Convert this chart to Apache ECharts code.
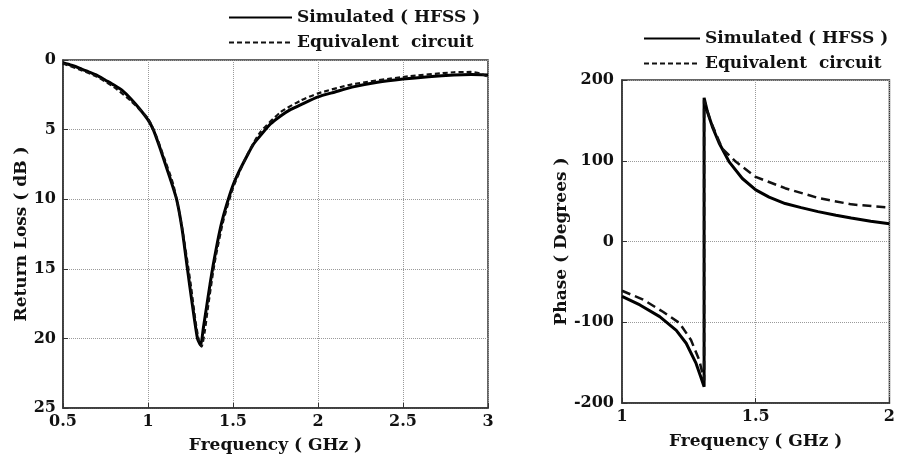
<!DOCTYPE html>
<html>
<head>
<meta charset="utf-8">
<script src="https://cdn.jsdelivr.net/npm/echarts@6/dist/echarts.min.js"></script>
<style>
html,body{margin:0;padding:0;background:#fff;}
#chart{width:898px;height:460px;}
</style>
</head>
<body>
<div id="chart"></div>
<script>
// ---- Data ----
var seriesNames = ['Simulated ( HFSS )', 'Equivalent  circuit'];

// Return loss (dB) vs frequency (GHz)
var rlFreqSim = [0.5,0.55,0.6,0.65,0.7,0.75,0.8,0.85,0.9,0.95,1.0,1.031,1.07,1.1,1.13,1.168,1.2,1.232,1.26,1.291,1.31,1.325,1.345,1.365,1.384,1.41,1.433,1.46,1.5,1.54,1.58,1.62,1.66,1.72,1.78,1.84,1.9,2.0,2.1,2.2,2.35,2.5,2.65,2.8,2.9,3.0];
var rlSim     = [0.2,0.38,0.6,0.85,1.1,1.45,1.8,2.2,2.8,3.5,4.3,5.0,6.3,7.4,8.5,10.0,12.1,15.0,17.5,20.0,20.5,19.3,17.7,16.1,14.7,13.0,11.7,10.5,9.0,7.9,6.95,6.05,5.45,4.6,4.02,3.55,3.2,2.65,2.3,1.95,1.6,1.37,1.2,1.08,1.05,1.08];

var rlFreqEq = [0.5,0.6,0.7,0.8,0.9,1.0,1.05,1.1,1.15,1.2,1.25,1.28,1.3,1.315,1.335,1.35,1.39,1.44,1.5,1.58,1.66,1.78,1.9,2.0,2.2,2.5,2.8,2.9,2.95,3.0];
var rlEq     = [0.25,0.7,1.2,1.95,2.95,4.2,5.5,7.2,9.0,12.0,16.0,18.8,20.2,20.6,19.4,18.0,14.7,11.7,9.2,6.9,5.2,3.75,2.9,2.4,1.75,1.22,0.88,0.86,0.95,1.2];

// Phase (degrees) vs frequency (GHz)
var phFreqSim = [1.0,1.067,1.141,1.203,1.24,1.277,1.295,1.307,1.307,1.32,1.338,1.363,1.4,1.45,1.5,1.55,1.61,1.67,1.733,1.8,1.857,1.93,2.0];
var phSim     = [-68,-78.6,-93,-110,-126,-151,-168,-180,178,160,142,122,99,78,64,55,47,42,37,32.5,29,25,22];

var phFreqEq = [1.0,1.079,1.153,1.215,1.258,1.289,1.307,1.307,1.33,1.375,1.425,1.5,1.61,1.733,1.857,2.0];
var phEq     = [-61,-72,-87,-101,-122,-147,-172,175,150,115,99,80,66,54,46,42];

// Tick labels
var rlXTicks = [0.5,1,1.5,2,2.5,3];
var rlYTicks = [0,5,10,15,20,25];
var phXTicks = [1,1.5,2];
var phYTicks = [-200,-100,0,100,200];

function zip(a,b){return a.map(function(v,i){return [v,b[i]];});}

var FONT = '"DejaVu Serif",serif';
var txt = {fontFamily:FONT,fontWeight:'bold',fontSize:17,color:'#111'};
var tickTxt = {fontFamily:FONT,fontWeight:'bold',fontSize:16,color:'#111'};
var gridLine = {show:true,lineStyle:{color:'#9a9a9a',type:'dotted',width:1}};
var axisLine = {show:true,onZero:false,lineStyle:{color:'#333',width:1.5}};
var tick = {show:true,inside:true,length:5,lineStyle:{color:'#333'}};
var legendCommon = {orient:'vertical',itemGap:8,itemHeight:16,data:seriesNames,
  textStyle:txt,inactiveColor:'#111',itemStyle:{opacity:0,borderWidth:0}};

var chart = echarts.init(document.getElementById('chart'));
chart.setOption({
  animation:false,
  backgroundColor:'#fff',
  legend:[
    Object.assign({left:223,top:4,itemWidth:63},legendCommon),
    Object.assign({left:638,top:25,itemWidth:56},legendCommon)
  ],
  grid:[
    {left:63,top:60,width:425,height:348,show:true,borderColor:'#333',borderWidth:1.5,backgroundColor:'transparent'},
    {left:622,top:80,width:270,height:323,show:true,borderColor:'#333',borderWidth:1.5,backgroundColor:'transparent'}
  ],
  xAxis:[
    {type:'value',gridIndex:0,min:rlXTicks[0],max:rlXTicks[rlXTicks.length-1],interval:rlXTicks[1]-rlXTicks[0],
     name:'Frequency ( GHz )',nameLocation:'middle',nameGap:29,nameTextStyle:txt,
     axisLine:axisLine,axisTick:tick,axisLabel:Object.assign({},tickTxt,{margin:6}),splitLine:gridLine},
    {type:'value',gridIndex:1,min:phXTicks[0],max:phXTicks[phXTicks.length-1],interval:phXTicks[1]-phXTicks[0],
     name:'Frequency ( GHz )',nameLocation:'middle',nameGap:30,nameTextStyle:txt,
     axisLine:axisLine,axisTick:tick,axisLabel:Object.assign({},tickTxt,{margin:6}),splitLine:gridLine}
  ],
  yAxis:[
    {type:'value',gridIndex:0,inverse:true,min:rlYTicks[0],max:rlYTicks[rlYTicks.length-1],interval:rlYTicks[1]-rlYTicks[0],
     name:'Return Loss ( dB )',nameLocation:'middle',nameGap:31,nameRotate:90,nameTextStyle:txt,
     axisLine:axisLine,axisTick:tick,axisLabel:Object.assign({},tickTxt,{margin:7}),splitLine:gridLine},
    {type:'value',gridIndex:1,min:phYTicks[0],max:phYTicks[phYTicks.length-1],interval:phYTicks[1]-phYTicks[0],
     name:'Phase ( Degrees )',nameLocation:'middle',nameGap:46,nameRotate:90,nameTextStyle:txt,
     axisLine:axisLine,axisTick:tick,axisLabel:Object.assign({},tickTxt,{margin:8}),splitLine:gridLine}
  ],
  series:[
    {name:seriesNames[0],type:'line',xAxisIndex:0,yAxisIndex:0,data:zip(rlFreqSim,rlSim),smooth:0.2,
     symbol:'none',lineStyle:{color:'#000',width:3},itemStyle:{color:'#000'}},
    {name:seriesNames[1],type:'line',xAxisIndex:0,yAxisIndex:0,data:zip(rlFreqEq,rlEq),smooth:0.2,
     symbol:'none',lineStyle:{color:'#111',width:2.2,type:[5,3]},itemStyle:{color:'#111'}},
    {name:seriesNames[0],type:'line',xAxisIndex:1,yAxisIndex:1,data:zip(phFreqSim,phSim),
     symbol:'none',lineStyle:{color:'#000',width:3},itemStyle:{color:'#000'}},
    {name:seriesNames[1],type:'line',xAxisIndex:1,yAxisIndex:1,data:zip(phFreqEq,phEq),
     symbol:'none',lineStyle:{color:'#111',width:2.5,type:[9,5]},itemStyle:{color:'#111'}}
  ]
});
</script>
</body>
</html>
